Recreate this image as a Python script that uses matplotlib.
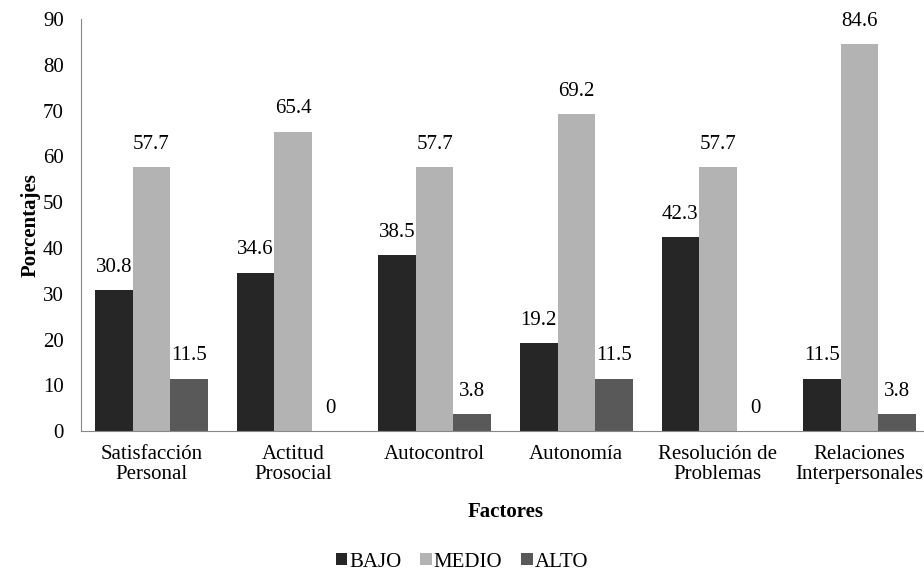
import matplotlib.pyplot as plt
import numpy as np

plt.rcParams['font.family'] = ['Liberation Serif', 'DejaVu Serif']

factores = ["Satisfacción\nPersonal", "Actitud\nProsocial", "Autocontrol", "Autonomía",
            "Resolución de\nProblemas", "Relaciones\nInterpersonales"]
bajo = [30.8, 34.6, 38.5, 19.2, 42.3, 11.5]
medio = [57.7, 65.4, 57.7, 69.2, 57.7, 84.6]
alto = [11.5, 0, 3.8, 11.5, 0, 3.8]

series = [("BAJO", bajo, "#262626"), ("MEDIO", medio, "#b3b3b3"), ("ALTO", alto, "#595959")]

fs = 15

fig = plt.figure(figsize=(9.24, 5.78), dpi=100)
ax = fig.add_axes([0.0873, 0.254, 0.9195, 0.713])

x = np.arange(len(factores))
w = 0.265
for i, (name, vals, col) in enumerate(series):
    pos = x + (i - 1) * w
    ax.bar(pos, vals, w, color=col, label=name)
    for p, v in zip(pos, vals):
        ax.text(p, v + 2.9, f"{v:g}", ha="center", va="bottom", fontsize=fs)

ax.set_xlim(-0.5, 5.5)
ax.set_ylim(0, 90)
ax.set_yticks(range(0, 91, 10))
ax.set_xticks(x)
ax.set_xticklabels(factores, fontsize=fs, linespacing=1.05)
ax.tick_params(axis="y", length=0, labelsize=fs, pad=12)
ax.tick_params(axis="x", length=0, pad=10)
for s in ["top", "right"]:
    ax.spines[s].set_visible(False)
for s in ["left", "bottom"]:
    ax.spines[s].set_color("#888888")

ax.set_ylabel("Porcentajes", fontsize=fs, fontweight="bold", labelpad=2)
ax.set_xlabel("Factores", fontsize=fs, fontweight="bold", labelpad=13)

fig.legend(loc="lower center", bbox_to_anchor=(0.5, 0.004), ncol=3, frameon=False,
           fontsize=fs, handlelength=0.55, handleheight=0.55, handletextpad=0.1,
           columnspacing=0.9, borderaxespad=0, borderpad=0.2)

fig.savefig("out.png", dpi=100)
